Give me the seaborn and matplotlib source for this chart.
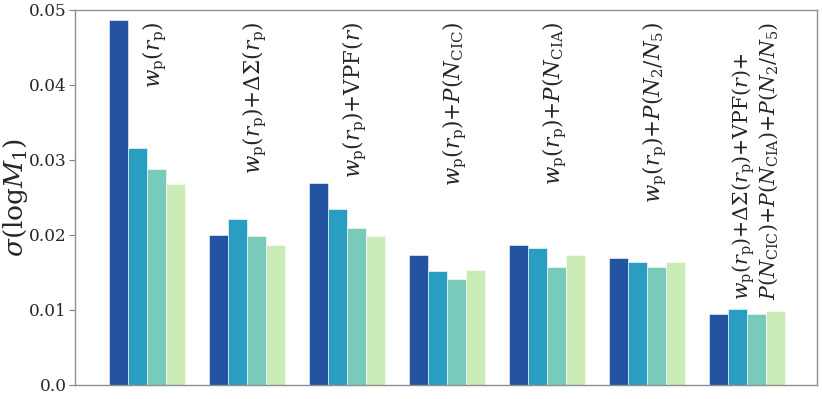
import matplotlib
matplotlib.use("Agg")
import matplotlib.pyplot as plt
import seaborn as sns
import pandas as pd

# ----------------------------------------------------------------------
# Data
# ----------------------------------------------------------------------
combos = [
    r"$w_{\rm p}(r_{\rm p})$",
    r"$w_{\rm p}(r_{\rm p})$+$\Delta\Sigma(r_{\rm p})$",
    r"$w_{\rm p}(r_{\rm p})$+VPF$(r)$",
    r"$w_{\rm p}(r_{\rm p})$+$P(N_{\rm CIC})$",
    r"$w_{\rm p}(r_{\rm p})$+$P(N_{\rm CIA})$",
    r"$w_{\rm p}(r_{\rm p})$+$P(N_2/N_5)$",
    r"$w_{\rm p}(r_{\rm p})$+$\Delta\Sigma(r_{\rm p})$+VPF$(r)$+" "\n"
    r"$P(N_{\rm CIC})$+$P(N_{\rm CIA})$+$P(N_2/N_5)$",
]
series = ["s1", "s2", "s3", "s4"]
sigma_s1 = [0.0487, 0.0200, 0.0269, 0.0173, 0.0187, 0.0169, 0.0095]
sigma_s2 = [0.0316, 0.0221, 0.0235, 0.0152, 0.0183, 0.0164, 0.0101]
sigma_s3 = [0.0288, 0.0199, 0.0209, 0.0141, 0.0157, 0.0157, 0.0095]
sigma_s4 = [0.0268, 0.0187, 0.0199, 0.0153, 0.0173, 0.0164, 0.0099]

colors = ["#2353a1", "#2a9dc3", "#78cabb", "#c9ebb5"]

rows = []
for name, vals in zip(series, [sigma_s1, sigma_s2, sigma_s3, sigma_s4]):
    for i, v in enumerate(vals):
        rows.append({"combo": i, "series": name, "sigma": v})
df = pd.DataFrame(rows)

sns.set_style("ticks")
plt.rcParams['font.family'] = ['DejaVu Serif']
plt.rcParams['mathtext.fontset'] = 'dejavuserif'

fig = plt.figure(figsize=(8.22, 3.99), dpi=100)
ax = fig.add_axes([0.0912, 0.0351, 0.9027, 0.9399])

sns.barplot(data=df, x="combo", y="sigma", hue="series", palette=colors,
            width=0.76, saturation=1, edgecolor="white", linewidth=0.4,
            legend=False, ax=ax)

# rotated labels above each group; the long last one is set a bit smaller
for i, lab in enumerate(combos):
    fs = 14.8 if "\n" in lab else 15.5
    ax.text(i + 0.08, 0.0484, lab, rotation=90, ha='center', va='top',
            multialignment='left', linespacing=1.05, fontsize=fs)

ax.set_xlim(-0.72, 6.7)
ax.set_ylim(0, 0.05)
ax.set_yticks([0.0, 0.01, 0.02, 0.03, 0.04, 0.05])
ax.set_yticklabels(["0.0", "0.01", "0.02", "0.03", "0.04", "0.05"])
ax.set_xticks([])
ax.set_xlabel("")
ax.set_ylabel(r"$\sigma(\mathrm{log}M_1)$", fontsize=19)
ax.yaxis.set_label_coords(-0.061, 0.5)
ax.tick_params(axis='y', labelsize=12.2, color='#808080', length=4, pad=2)
for sp in ax.spines.values():
    sp.set_color('#909090')
    sp.set_linewidth(1.0)

fig.savefig("out.png", dpi=100)
